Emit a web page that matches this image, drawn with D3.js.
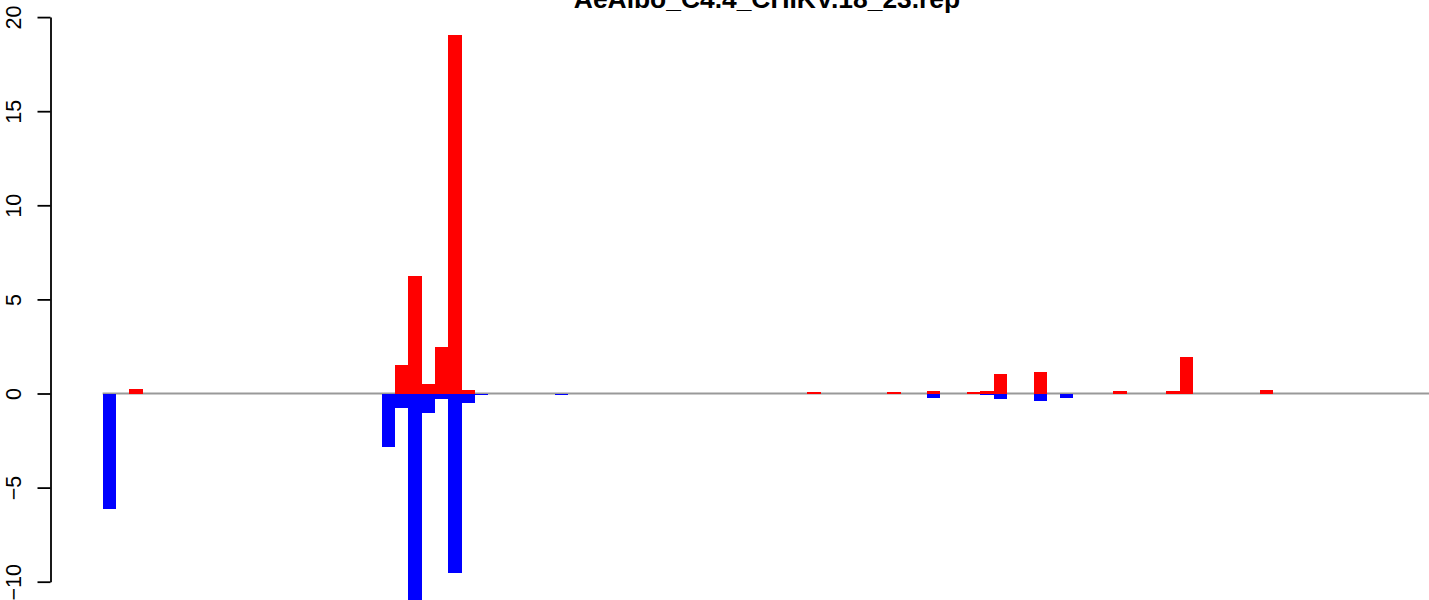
<!DOCTYPE html>
<html>
<head>
<meta charset="utf-8">
<script src="https://cdn.jsdelivr.net/npm/d3@7"></script>
<style>
  html, body { margin: 0; padding: 0; background: #ffffff; }
  svg { display: block; }
</style>
</head>
<body>
<svg id="chart" width="1429" height="600"></svg>
<script>
// ---- data ----
const chartTitle = "AeAlbo_C4.4_CHIKV.18_23.rep";
const categories = d3.range(1, 99); // 98 positions
const posValues = [
  0, 0, 0.25, 0, 0, 0, 0, 0, 0, 0,
  0, 0, 0, 0, 0, 0, 0, 0, 0, 0,
  0, 0, 1.51, 6.24, 0.5, 2.49, 19.06, 0.19, 0, 0,
  0, 0, 0, 0, 0, 0, 0, 0, 0, 0,
  0, 0, 0, 0, 0, 0, 0, 0, 0, 0,
  0, 0, 0, 0.08, 0, 0, 0, 0, 0, 0.08,
  0, 0, 0.15, 0, 0, 0.08, 0.13, 1.05, 0, 0,
  1.15, 0, 0, 0, 0, 0, 0.13, 0, 0, 0,
  0.13, 1.95, 0, 0, 0, 0, 0, 0.19, 0, 0,
  0, 0, 0, 0, 0, 0, 0, 0
];
const negValues = [
  -6.12, 0, 0, 0, 0, 0, 0, 0, 0, 0,
  0, 0, 0, 0, 0, 0, 0, 0, 0, 0,
  0, -2.84, -0.75, -11.5, -1.02, -0.29, -9.55, -0.49, -0.08, 0,
  0, 0, 0, 0, -0.07, 0, 0, 0, 0, 0,
  0, 0, 0, 0, 0, 0, 0, 0, 0, 0,
  0, 0, 0, 0, 0, 0, 0, 0, 0, 0,
  0, 0, -0.24, 0, 0, 0, -0.08, -0.29, 0, 0,
  -0.4, 0, -0.24, 0, 0, 0, 0, 0, 0, 0,
  0, 0, 0, 0, 0, 0, 0, 0, 0, 0,
  0, 0, 0, 0, 0, 0, 0, 0
];
const yTicks = [-10, -5, 0, 5, 10, 15, 20];

// ---- layout ----
const svg = d3.select("#chart");
const N = categories.length;
const plotLeft = 50.5, plotRight = 1458;
const x = d3.scaleLinear()
  .domain([-0.04 * N, N * 1.04])
  .range([plotLeft, plotRight]);
const y = d3.scaleLinear()
  .domain([-10, 20])
  .range([581.7, 17.1]);

// zero line
svg.append("line")
  .attr("x1", x(0)).attr("x2", plotRight)
  .attr("y1", y(0)).attr("y2", y(0))
  .attr("stroke", "#999999")
  .attr("stroke-width", 2);

const pos = categories.map((c, i) => ({ i, v: posValues[i] })).filter(d => d.v !== 0);
const neg = categories.map((c, i) => ({ i, v: negValues[i] })).filter(d => d.v !== 0);

svg.append("g").selectAll("rect").data(pos).join("rect")
  .attr("x", d => x(d.i))
  .attr("width", d => x(d.i + 1) - x(d.i))
  .attr("y", d => y(d.v))
  .attr("height", d => y(0) - y(d.v))
  .attr("fill", "#ff0000")
  .attr("shape-rendering", "crispEdges");

svg.append("g").selectAll("rect").data(neg).join("rect")
  .attr("x", d => x(d.i))
  .attr("width", d => x(d.i + 1) - x(d.i))
  .attr("y", y(0))
  .attr("height", d => y(d.v) - y(0))
  .attr("fill", "#0000ff")
  .attr("shape-rendering", "crispEdges");

// y axis
const axis = d3.axisLeft(y)
  .tickValues(yTicks)
  .tickSize(13)
  .tickSizeOuter(0)
  .tickFormat(d => (d < 0 ? "\u2212" + Math.abs(d) : String(d)));
const gAxis = svg.append("g")
  .attr("transform", `translate(${plotLeft},0)`)
  .call(axis);
gAxis.select(".domain").attr("stroke", "#000").attr("stroke-width", 1.8);
gAxis.selectAll(".tick line").attr("stroke", "#000").attr("stroke-width", 1.8);
gAxis.selectAll(".tick text")
  .attr("font-family", "'Liberation Sans', Arial, sans-serif")
  .attr("font-size", 21.5)
  .attr("fill", "#000")
  .attr("text-anchor", "middle")
  .attr("dy", null)
  .attr("x", null)
  .attr("transform", `translate(${20.5 - plotLeft},0) rotate(-90)`)
  .attr("y", 0);

// title
svg.append("text")
  .attr("x", 767)
  .attr("y", 7.5)
  .attr("text-anchor", "middle")
  .attr("font-family", "'Liberation Sans', Arial, sans-serif")
  .attr("font-weight", "bold")
  .attr("font-size", 26.4)
  .attr("fill", "#000")
  .text(chartTitle);
</script>
</body>
</html>
